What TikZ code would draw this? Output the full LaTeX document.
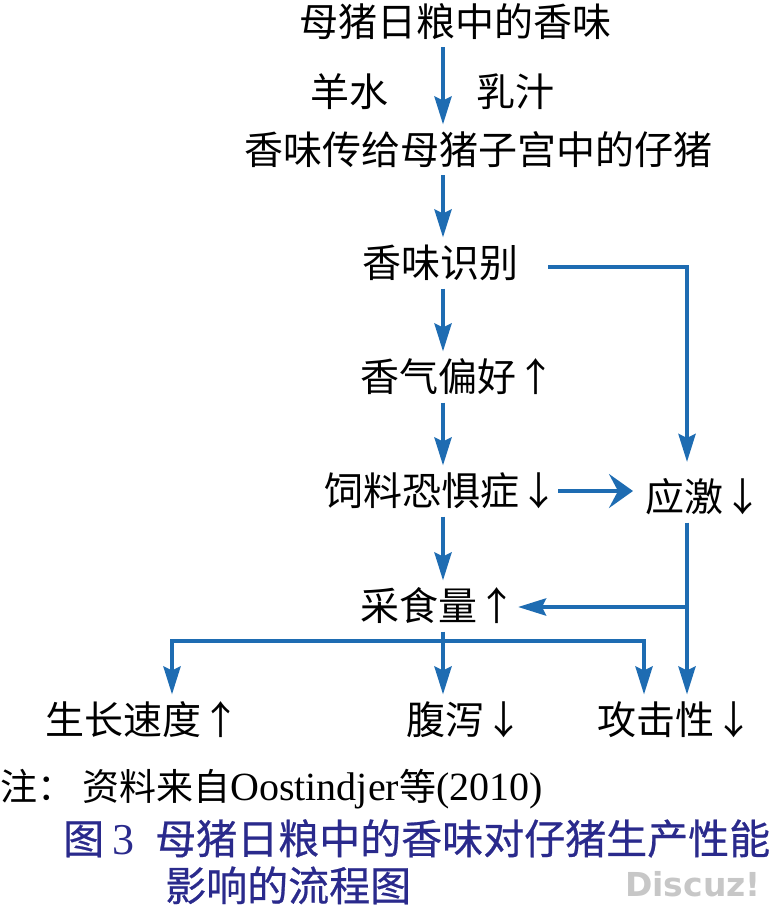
\documentclass[tikz,border=0pt]{standalone}
\usepackage{fontspec}
\setmainfont{Liberation Serif}
\newfontfamily\cjk{Noto Sans CJK SC}
\newfontfamily\capfont{Noto Sans CJK SC}[FakeBold=0.6]
\newfontfamily\wmfont{DejaVu Sans}
\usetikzlibrary{arrows.meta}
\definecolor{flowblue}{RGB}{30,108,178}
\definecolor{capblue}{RGB}{42,42,140}
\begin{document}
\begin{tikzpicture}[x=1pt,y=-1pt,
  lbl/.style={font=\cjk\fontsize{39}{39}\selectfont, inner sep=0pt,
              text height=32pt, text depth=3pt, outer ysep=8pt, outer xsep=0pt},
  flow/.style={draw=flowblue, line width=4.3pt},
  arr/.style={flow, -{Stealth[length=28pt,width=17pt,inset=4pt]}},
  bigarr/.style={flow, -{Stealth[length=24pt,width=34pt,inset=9pt]}},
]
\useasboundingbox (0,0) rectangle (778,909);

% column / row helpers
\coordinate (cx) at (443,0);
\coordinate (rx) at (687,0);
\coordinate (lx) at (172,0);
\coordinate (ax) at (644,0);
\coordinate (ry) at (0,267);
\coordinate (by) at (0,607);
\coordinate (hy) at (0,641);

% nodes
\node[lbl] (src)    at (455,22)  {母猪日粮中的香味};
\node[lbl] (amn)    at (349,92)  {羊水};
\node[lbl] (milk)   at (515,92)  {乳汁};
\node[lbl] (fetus)  at (478,150) {香味传给母猪子宫中的仔猪};
\node[lbl] (recog)  at (440,263) {香味识别};
\node[lbl] (pref)   at (458,377) {香气偏好↑};
\node[lbl] (fear)   at (441,491) {饲料恐惧症↓};
\node[lbl] (stress) at (704,497) {应激↓};
\node[lbl] (intake) at (438,606) {采食量↑};
\node[lbl] (growth) at (143,720) {生长速度↑};
\node[lbl] (diarr)  at (465,720) {腹泻↓};
\node[lbl] (aggr)   at (675,720) {攻击性↓};

% connectors
\draw[arr] (src.south -| cx) -- (fetus.north -| cx);
\draw[arr] (fetus.south -| cx) -- (recog.north -| cx);
\draw[arr] (recog.south -| cx) -- (pref.north -| cx);
\draw[arr] (pref.south -| cx) -- (fear.north -| cx);
\draw[arr] (fear.south -| cx) -- (intake.north -| cx);
\draw[arr] (intake.south -| cx) -- (diarr.north -| cx);
\draw[arr] (hy -| cx) -| (growth.north -| lx);
\draw[arr] (hy -| cx) -| (aggr.north -| ax);
\draw[arr] ([xshift=30pt]recog.east |- ry) -| ([yshift=9.5pt]stress.north -| rx);
\draw[bigarr] (fear.east) -- ([xshift=-12.5pt]fear.east -| stress.west);
\draw[arr] (stress.south -| rx) -- (aggr.north -| rx);
\draw[arr] (by -| rx) -- ([xshift=2pt]intake.east |- by);

% note and caption
\node[anchor=base west, inner sep=0pt, font=\fontsize{40}{40}\selectfont] (note) at (0,800)
  {{\cjk\fontsize{37}{37}\selectfont 注：}\hspace{8pt}{\cjk\fontsize{37}{37}\selectfont 资料来自}Oostindjer{\cjk\fontsize{37}{37}\selectfont 等}(2010)};
\node[anchor=base west, inner sep=0pt, text=capblue] (cap1) at (63,854)
  {{\capfont\fontsize{41}{41}\selectfont 图}\hspace{8pt}{\fontsize{44}{44}\selectfont 3}\hspace{21pt}{\capfont\fontsize{41}{41}\selectfont 母猪日粮中的香味对仔猪生产性能}};
\node[anchor=base west, inner sep=0pt, text=capblue] (cap2) at (165,901)
  {{\capfont\fontsize{41}{41}\selectfont 影响的流程图}};
\node[anchor=west, inner sep=0pt, text=black!22, font=\wmfont\bfseries\fontsize{33}{33}\selectfont] (wm) at (625,884) {Discuz!};
\end{tikzpicture}
\end{document}
